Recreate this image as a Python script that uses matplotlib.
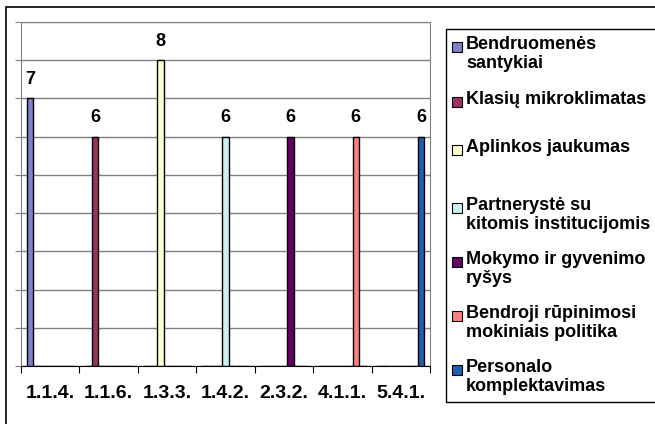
import matplotlib.pyplot as plt
import numpy as np
from matplotlib.patches import Rectangle

plt.rcParams['font.family'] = ['Liberation Sans', 'DejaVu Sans']
plt.rcParams['font.weight'] = 'bold'

categories = ['1.1.4.', '1.1.6.', '1.3.3.', '1.4.2.', '2.3.2.', '4.1.1.', '5.4.1.']
series = ['Bendruomenės\nsantykiai', 'Klasių mikroklimatas', 'Aplinkos jaukumas',
          'Partnerystė su\nkitomis institucijomis', 'Mokymo ir gyvenimo\nryšys',
          'Bendroji rūpinimosi\nmokiniais politika', 'Personalo\nkomplektavimas']
values = [7, 6, 8, 6, 6, 6, 6]
colors = ['#8080CC', '#993366', '#FFFFCC', '#CCF0F0', '#660066', '#FF8080', '#1F5FB0']

W, H = 655, 424
fig = plt.figure(figsize=(W / 100, H / 100), dpi=100)

# outer chart border (right/bottom run off the picture)
fig.patches.append(Rectangle((5.5 / W, -0.1), 1.1, 1 - 7 / H + 0.1, transform=fig.transFigure,
                             fill=False, edgecolor='black', linewidth=1.2))

ax = fig.add_axes([21 / W, 1 - 366 / H, (430 - 21) / W, (366 - 22) / H])

n = len(series)
x = np.arange(len(categories))
w = 0.1156
for i in range(n):
    # each series only has a value in its own category
    vals = np.zeros(len(categories))
    vals[i] = values[i]
    pos = x + (i - (n - 1) / 2) * w
    ax.bar(pos, vals, width=w * 0.95, color=colors[i], edgecolor='black', linewidth=1, zorder=3)
    ax.annotate(str(values[i]), (pos[i], values[i]), xytext=(0, 19), textcoords='offset pixels',
                ha='center', va='center', fontsize=13, fontweight='bold')

ax.set_xlim(-0.5, len(categories) - 0.5)
ax.set_ylim(0, 9)
ax.set_yticks(range(10))
ax.set_yticklabels([])
ax.grid(axis='y', color='#808080', linewidth=1, zorder=0)
ax.tick_params(axis='y', direction='out', length=4, color='#808080')

ax.set_xticks(np.arange(len(categories) + 1) - 0.5)
ax.set_xticklabels([])
ax.set_xticks(x, minor=True)
ax.set_xticklabels(categories, minor=True, fontsize=14, fontweight='bold')
ax.tick_params(axis='x', which='major', direction='out', length=5, color='black')
ax.tick_params(axis='x', which='minor', length=0, pad=14)

for s in ['left', 'right', 'top']:
    ax.spines[s].set_color('#808080')
ax.spines['bottom'].set_color('black')

# legend box drawn by hand to match the layout
fig.patches.append(Rectangle((446 / W, 1 - 402 / H), 0.5, (402 - 29) / H, transform=fig.transFigure,
                             fill=False, edgecolor='black', linewidth=1))
leg_y = [47, 102, 150, 208, 262, 316, 370]
for i in range(n):
    y = leg_y[i]
    fig.patches.append(Rectangle((452 / W, 1 - (y + 5) / H), 10 / W, 10 / H, transform=fig.transFigure,
                                 facecolor=colors[i], edgecolor='black', linewidth=0.8))
    fig.text(466 / W, 1 - (y - 11) / H, series[i], ha='left', va='top', fontsize=13,
             fontweight='bold', linespacing=1.15)

fig.savefig('out.png', dpi=100)
